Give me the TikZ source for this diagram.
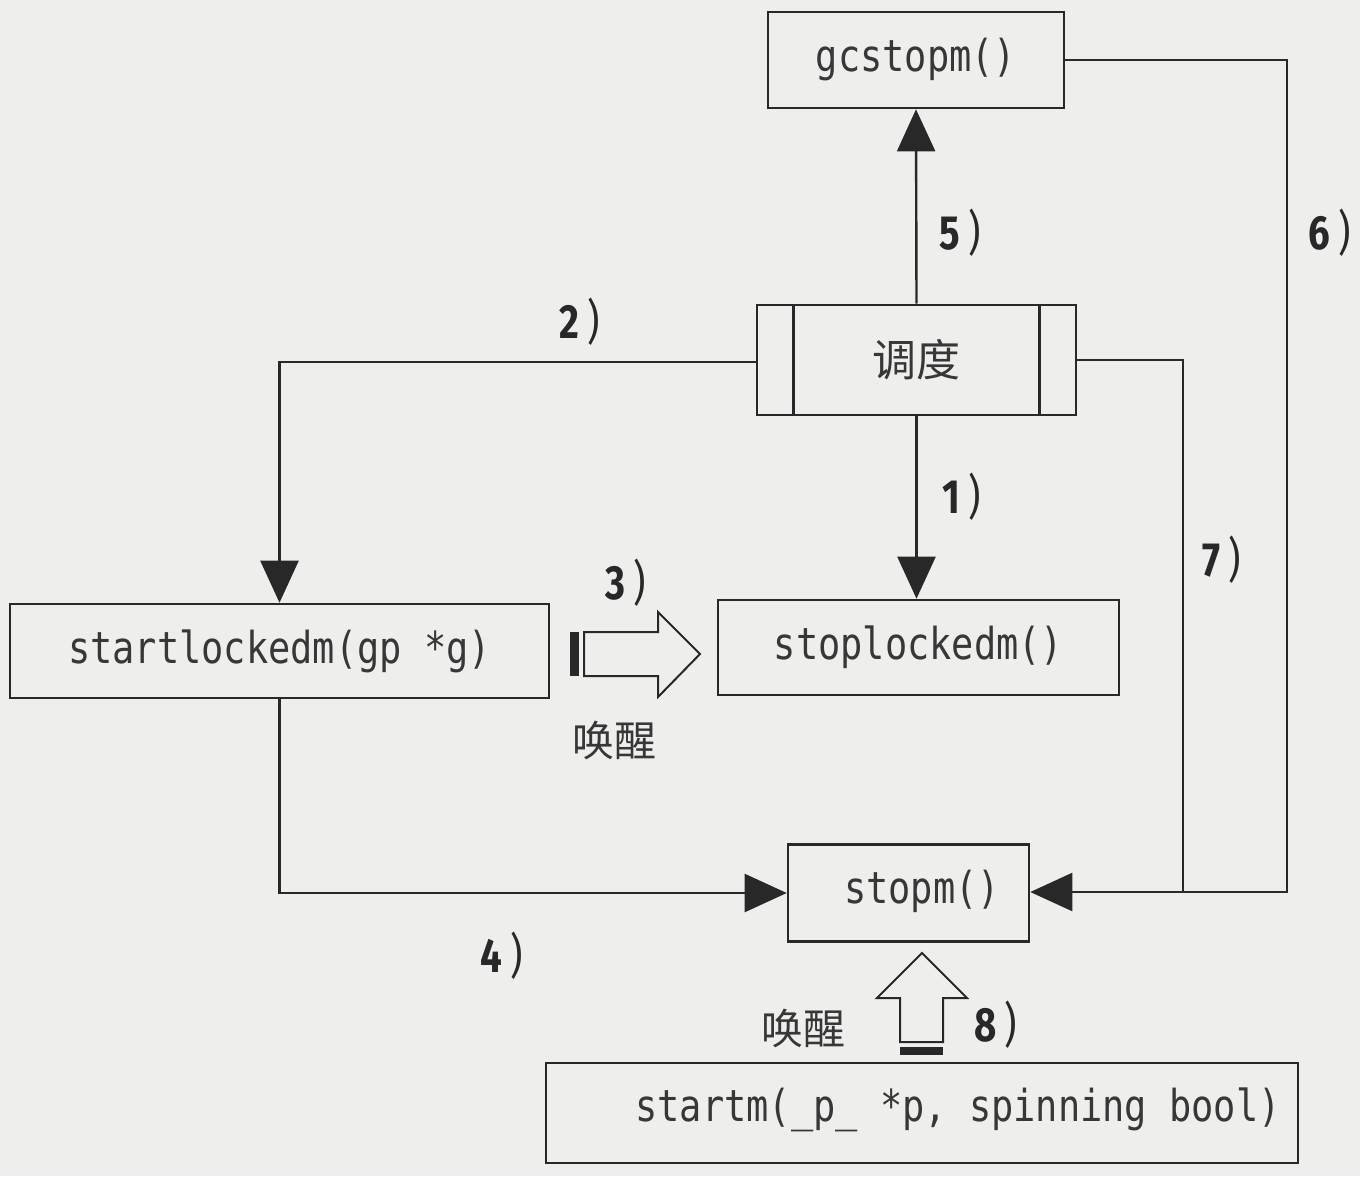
\documentclass[tikz,border=0pt]{standalone}
\usepackage{fontspec}
\usetikzlibrary{arrows.meta,calc}
\newfontfamily\cjk{Noto Sans CJK SC}
\newfontfamily\codefont[FakeStretch=0.84]{DejaVu Sans Mono}
\newfontfamily\numfont[FakeStretch=0.8]{Fira Sans}
\definecolor{bg}{RGB}{238,238,236}
\definecolor{ink}{RGB}{40,40,40}
\definecolor{txt}{RGB}{55,55,55}
\begin{document}
\begin{tikzpicture}[x=1pt,y=-1pt,
  box/.style={draw=ink, line width=2.6pt, inner sep=0pt, text=txt},
  code/.style={font=\codefont\fontsize{44}{48}\selectfont},
  conn/.style={draw=ink, line width=2.4pt},
  tip/.style={-{Triangle[length=42pt,width=38pt]}},
  lbl/.style={text=ink, inner sep=0pt},
  cn/.style={text=txt, inner sep=0pt, font=\cjk\fontsize{42}{46}\selectfont},
  hollow/.style={draw=ink, line width=2pt, fill=bg, line join=miter}]
\fill[bg] (0,0) rectangle (1360,1176);
\useasboundingbox (0,0) rectangle (1360,1176);

\newcommand\numlbl[1]{{\numfont\fontsize{48}{52}\selectfont\bfseries #1\kern8pt\mdseries)}}

% boxes
\node[box, code, minimum width=296pt, minimum height=96pt] (gc) at (916,60) {gcstopm()};
\node[box, minimum width=319pt, minimum height=110pt, font=\cjk\fontsize{44}{48}\selectfont] (sched) at (916.5,360) {调度};
\draw[ink, line width=2.6pt] ([xshift=38pt]sched.north west) -- ([xshift=38pt]sched.south west);
\draw[ink, line width=2.6pt] ([xshift=-38pt]sched.north east) -- ([xshift=-38pt]sched.south east);
\node[box, code, minimum width=539pt, minimum height=94pt] (sl) at (279.5,651) {startlockedm(gp *g)};
\node[box, code, minimum width=401pt, minimum height=95pt] (stl) at (918.5,647.5) {stoplockedm()};
\node[box, minimum width=241pt, minimum height=97pt] (stopm) at (908.5,893) {};
\node[code, text=txt, inner sep=0pt] (stopmt) at (922,891) {stopm()};
\node[box, minimum width=752pt, minimum height=100pt] (sm) at (922,1113) {};
\node[code, text=txt, inner sep=0pt] (smt) at (958,1110) {startm(\_p\_ *p, spinning bool)};

% connectors
\draw[conn, tip] (sched.north) -- (gc.south);
\draw[conn, tip] (sched.south) -- (sched.south |- stl.north);
\draw[conn, tip] (sched.west |- 0,362) -| (sl.north);
\draw[conn, tip] (gc.east) -| (1287,892) -- (stopm.east |- 0,892);
\draw[conn] (sched.east) -| (1183,892);
\draw[conn, tip] (sl.south) |- (stopm.west |- 0,893);

% labels
\node[lbl] (l5) at (960,233) {\numlbl{5}};
\node[lbl] (l1) at (962,497) {\numlbl{1}};
\node[lbl] (l2) at (580,322) {\numlbl{2}};
\node[lbl] (l6) at (1330,233) {\numlbl{6}};
\node[lbl] (l7) at (1222,560) {\numlbl{7}};
\node[lbl] (l4) at (502,956) {\numlbl{4}};
\node[lbl] (l3) at (626,583) {\numlbl{3}};
\node[lbl] (l8) at (996,1025) {\numlbl{8}};

% hollow arrow 3
\draw[hollow] (584,632) -- (658,632) -- (658,612) -- (700,654) -- (658,697) -- (658,676) -- (584,676) -- cycle;
\fill[ink] (570,632) rectangle (579,676);
\node[cn] (w3) at (614,740) {唤醒};

% hollow arrow 8
\draw[hollow] (900,1042) -- (900,998) -- (877,998) -- (922,953) -- (967,998) -- (943,998) -- (943,1042) -- cycle;
\fill[ink] (900,1047) rectangle (943,1055);
\node[cn] (w8) at (803,1028) {唤醒};
\end{tikzpicture}
\end{document}
